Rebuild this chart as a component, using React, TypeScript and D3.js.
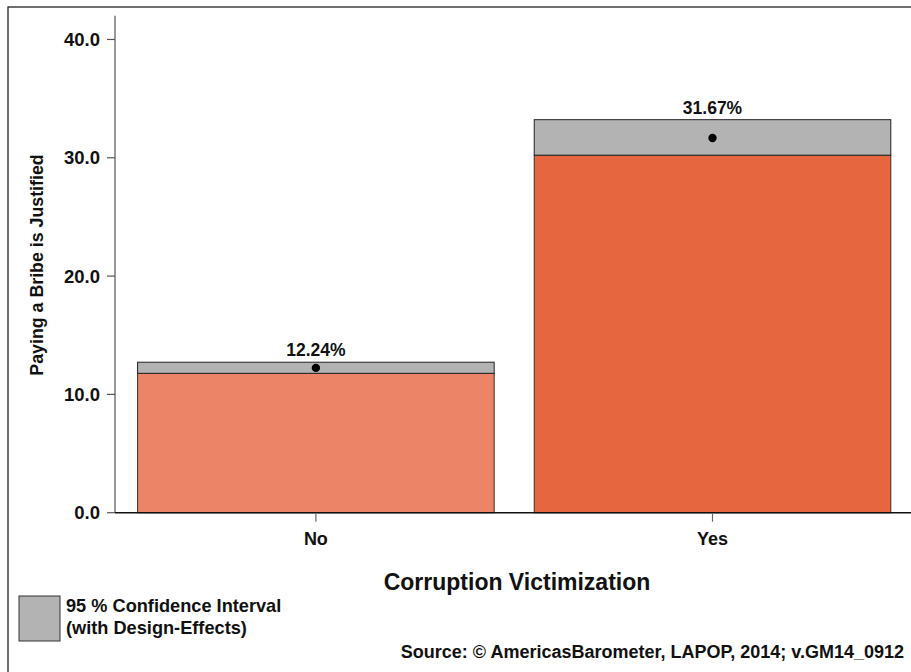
import React from "react";
import * as d3 from "d3";

const categories = ["No", "Yes"];
const means = [12.24, 31.67];
const ciLow = [11.78, 30.22];
const ciHigh = [12.72, 33.22];
const barColors = ["#EC8468", "#E6663F"];
const yTicks = [0, 10, 20, 30, 40];
const yTitle = "Paying a Bribe is Justified";
const xTitle = "Corruption Victimization";
const legendLines = ["95 % Confidence Interval", "(with Design-Effects)"];
const sourceText = "Source: \u00A9 AmericasBarometer, LAPOP, 2014; v.GM14_0912";

const W = 911;
const H = 672;
const FONT = "'Liberation Sans', Arial, sans-serif";

export default function App() {
  const y = d3.scaleLinear().domain([0, 42]).range([512.7, 15.8]);
  const x = d3
    .scaleBand<string>()
    .domain(categories)
    .range([115, 913.4])
    .paddingInner(0.101)
    .paddingOuter(0.057);
  const axisX = 115;
  const axisY = y(0);

  return (
    <svg
      width={W}
      height={H}
      style={{ position: "absolute", left: 0, top: 0, background: "#fff" }}
      fontFamily={FONT}
      fontWeight="bold"
    >
      <rect x={0} y={0} width={W} height={H} fill="#fff" />
      <rect x={8} y={7} width={W + 20} height={H + 20} fill="none" stroke="#222" strokeWidth={1.3} />

      {/* bars */}
      {categories.map((c, i) => {
        const x0 = x(c)!;
        const bw = x.bandwidth();
        return (
          <g key={c}>
            <rect
              x={x0}
              y={y(ciLow[i])}
              width={bw}
              height={y(0) - y(ciLow[i])}
              fill={barColors[i]}
              stroke="#3a2a25"
              strokeWidth={1}
            />
            <rect
              x={x0}
              y={y(ciHigh[i])}
              width={bw}
              height={y(ciLow[i]) - y(ciHigh[i])}
              fill="#b3b3b3"
              stroke="#222"
              strokeWidth={1}
            />
            <circle cx={x0 + bw / 2} cy={y(means[i])} r={4.2} fill="#000" />
            <text
              x={x0 + bw / 2}
              y={y(ciHigh[i]) - 6}
              textAnchor="middle"
              fontSize={17.5}
              fill="#111"
            >
              {means[i].toFixed(2) + "%"}
            </text>
          </g>
        );
      })}

      {/* y axis */}
      <line x1={axisX} x2={axisX} y1={y(42)} y2={axisY} stroke="#555" strokeWidth={1.2} />
      {yTicks.map((t) => (
        <g key={t}>
          <line x1={axisX - 8} x2={axisX} y1={y(t)} y2={y(t)} stroke="#555" strokeWidth={1.2} />
          <text
            x={axisX - 15}
            y={y(t)}
            dy="0.36em"
            textAnchor="end"
            fontSize={18.5}
            fill="#111"
          >
            {t.toFixed(1)}
          </text>
        </g>
      ))}

      {/* x axis */}
      <line x1={axisX} x2={W + 5} y1={axisY} y2={axisY} stroke="#111" strokeWidth={1.5} />
      {categories.map((c) => {
        const cx = x(c)! + x.bandwidth() / 2;
        return (
          <g key={c}>
            <line x1={cx} x2={cx} y1={axisY + 1} y2={axisY + 9} stroke="#666" strokeWidth={1.2} />
            <text x={cx} y={545} textAnchor="middle" fontSize={18} fill="#111">
              {c}
            </text>
          </g>
        );
      })}

      {/* axis titles */}
      <text
        transform={`translate(43,265) rotate(-90)`}
        textAnchor="middle"
        fontSize={17.8}
        fill="#111"
      >
        {yTitle}
      </text>
      <text x={517} y={590} textAnchor="middle" fontSize={23} fill="#111">
        {xTitle}
      </text>

      {/* legend */}
      <rect x={19} y={596} width={41} height={45} fill="#b3b3b3" stroke="#333" strokeWidth={1} />
      {legendLines.map((l, i) => (
        <text key={l} x={66} y={612 + i * 22} fontSize={18.2} fill="#111">
          {l}
        </text>
      ))}

      {/* source */}
      <text x={904} y={658} textAnchor="end" fontSize={18} fill="#111">
        {sourceText}
      </text>
    </svg>
  );
}
